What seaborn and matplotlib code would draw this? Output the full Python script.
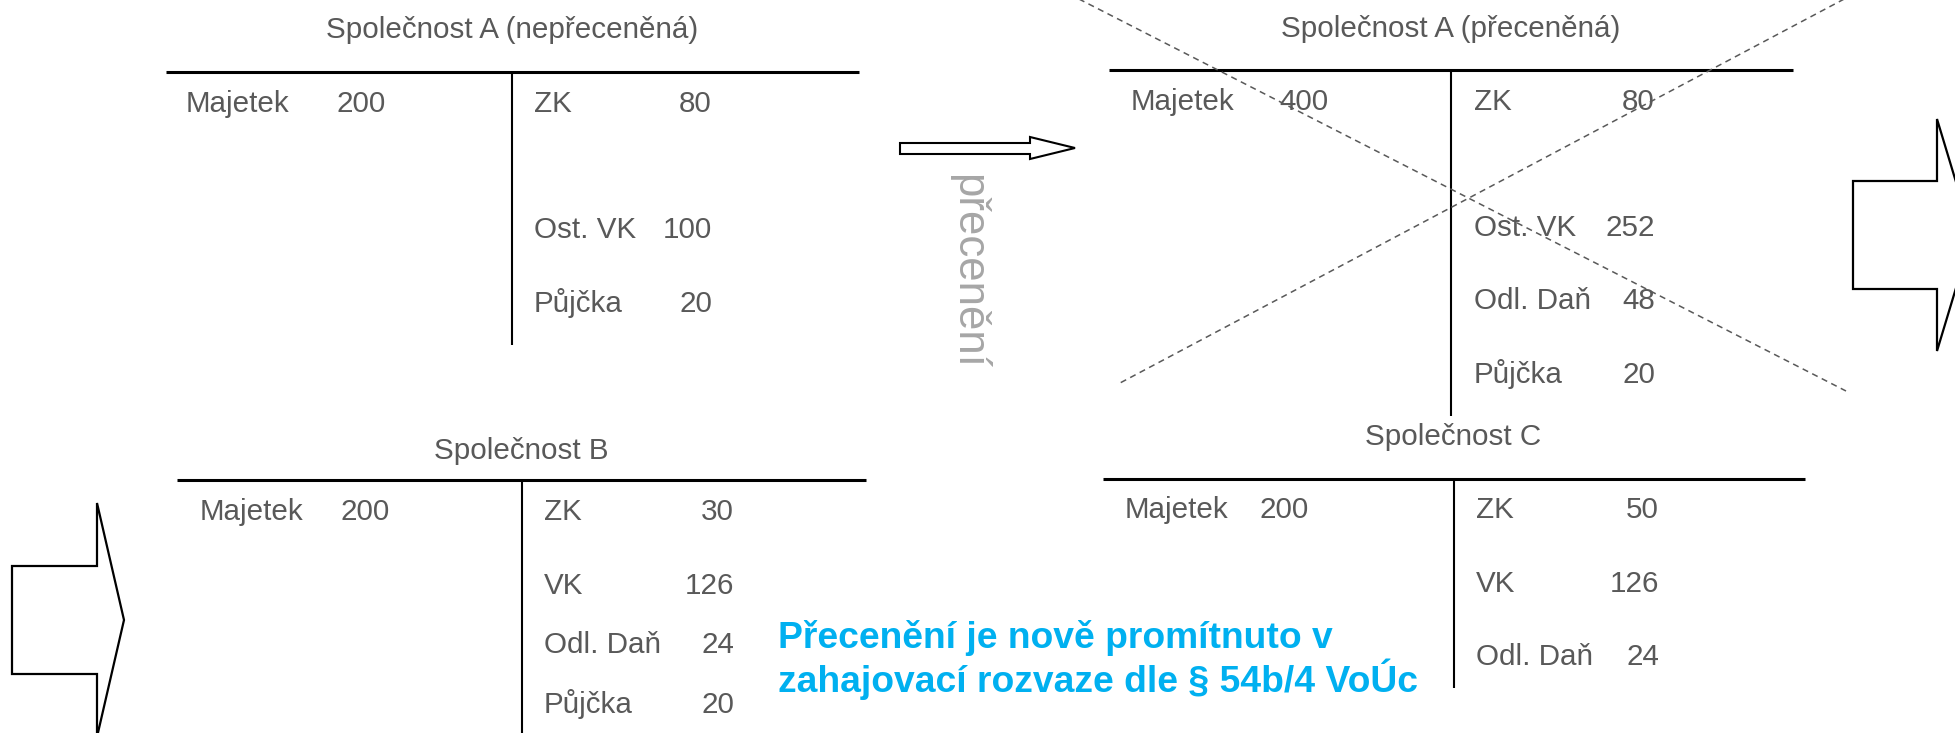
import matplotlib
matplotlib.use("Agg")
import matplotlib.pyplot as plt
from matplotlib.patches import Polygon
import seaborn as sns

# ---- data: four T-accounts -------------------------------------------------
titles = ["Společnost A (nepřeceněná)", "Společnost A (přeceněná)",
          "Společnost B", "Společnost C"]
asset_label = "Majetek"
asset_values = [200, 400, 200, 200]
liab_labels = [
    ["ZK", "Ost. VK", "Půjčka"],
    ["ZK", "Ost. VK", "Odl. Daň", "Půjčka"],
    ["ZK", "VK", "Odl. Daň", "Půjčka"],
    ["ZK", "VK", "Odl. Daň"],
]
liab_values = [
    [80, 100, 20],
    [80, 252, 48, 20],
    [30, 126, 24, 20],
    [50, 126, 24],
]
revalue_word = "přecenění"
note_lines = ["Přecenění je nově promítnuto v",
              "zahajovací rozvaze dle § 54b/4 VoÚc"]

# ---- layout (pixel space of the slide) -------------------------------------
# title x/y, hline x0/x1/y, vline x/y1, asset label x, asset value right x,
# liability label x, liability value right x, row baselines
layout = [
    dict(tx=512, ty=38, x0=166, x1=859, hy=72, vx=512, vy1=345,
         lx=186, lv=386, rx=534, rv=712, rows=[112, 238, 312]),
    dict(tx=1451, ty=37, x0=1109, x1=1793, hy=70, vx=1451, vy1=416,
         lx=1131, lv=1329, rx=1474, rv=1655, rows=[110, 236, 309, 383]),
    dict(tx=521, ty=459, x0=177, x1=866, hy=480, vx=522, vy1=740,
         lx=200, lv=390, rx=544, rv=734, rows=[520, 594, 653, 713]),
    dict(tx=1453, ty=445, x0=1103, x1=1805, hy=479, vx=1454, vy1=688,
         lx=1125, lv=1309, rx=1476, rv=1659, rows=[518, 592, 665]),
]

sns.set_theme(style="white")
plt.rcParams["font.family"] = ["Liberation Sans", "DejaVu Sans"]

W, H = 1955, 733
fig = plt.figure(figsize=(W / 100, H / 100), dpi=100)
ax = fig.add_axes([0, 0, 1, 1])
ax.set_xlim(0, W)
ax.set_ylim(H, 0)
ax.axis("off")

txt_color = "#595959"
fs = 21.3

for i, L in enumerate(layout):
    ax.text(L["tx"], L["ty"], titles[i], ha="center", va="baseline",
            fontsize=fs, color=txt_color)
    ax.plot([L["x0"], L["x1"]], [L["hy"], L["hy"]], color="black", lw=2.2,
            solid_capstyle="butt")
    ax.plot([L["vx"], L["vx"]], [L["hy"], L["vy1"]], color="black", lw=1.5,
            solid_capstyle="butt")
    # asset side
    ax.text(L["lx"], L["rows"][0], asset_label, ha="left", va="baseline",
            fontsize=fs, color=txt_color)
    ax.text(L["lv"], L["rows"][0], str(asset_values[i]), ha="right",
            va="baseline", fontsize=fs, color=txt_color)
    # liability side
    for lab, val, y in zip(liab_labels[i], liab_values[i], L["rows"]):
        ax.text(L["rx"], y, lab, ha="left", va="baseline", fontsize=fs,
                color=txt_color)
        ax.text(L["rv"], y, str(val), ha="right", va="baseline", fontsize=fs,
                color=txt_color)

# dashed cross over the revalued account
ax.plot([1075, 1846], [-3, 391], color=txt_color, lw=1.1, ls=(0, (4, 3)),
        zorder=5)
ax.plot([1848, 1120], [-3, 383], color=txt_color, lw=1.1, ls=(0, (4, 3)),
        zorder=5)

# block arrows
def block_arrow(x0, xb, xt, y_shaft0, y_shaft1, y_head0, y_head1, lw=1.6):
    yc = (y_head0 + y_head1) / 2
    pts = [(x0, y_shaft0), (xb, y_shaft0), (xb, y_head0), (xt, yc),
           (xb, y_head1), (xb, y_shaft1), (x0, y_shaft1)]
    ax.add_patch(Polygon(pts, closed=True, facecolor="white",
                         edgecolor="black", lw=lw, joinstyle="miter",
                         zorder=3))

block_arrow(900, 1030, 1075, 143, 154, 137, 159, lw=1.5)
block_arrow(1853, 1937, 1972, 181, 289, 119, 351)
block_arrow(12, 97, 124, 566, 674, 503, 737)

ax.text(968, 271, revalue_word, rotation=270, ha="center", va="center",
        fontsize=31.5, color="#A6A6A6")

ax.text(778, 648, note_lines[0], ha="left", va="baseline", fontsize=26.8,
        fontweight="bold", color="#00B0F0")
ax.text(778, 692, note_lines[1], ha="left", va="baseline", fontsize=26.8,
        fontweight="bold", color="#00B0F0")

fig.savefig("out.png", dpi=100, facecolor="white")
